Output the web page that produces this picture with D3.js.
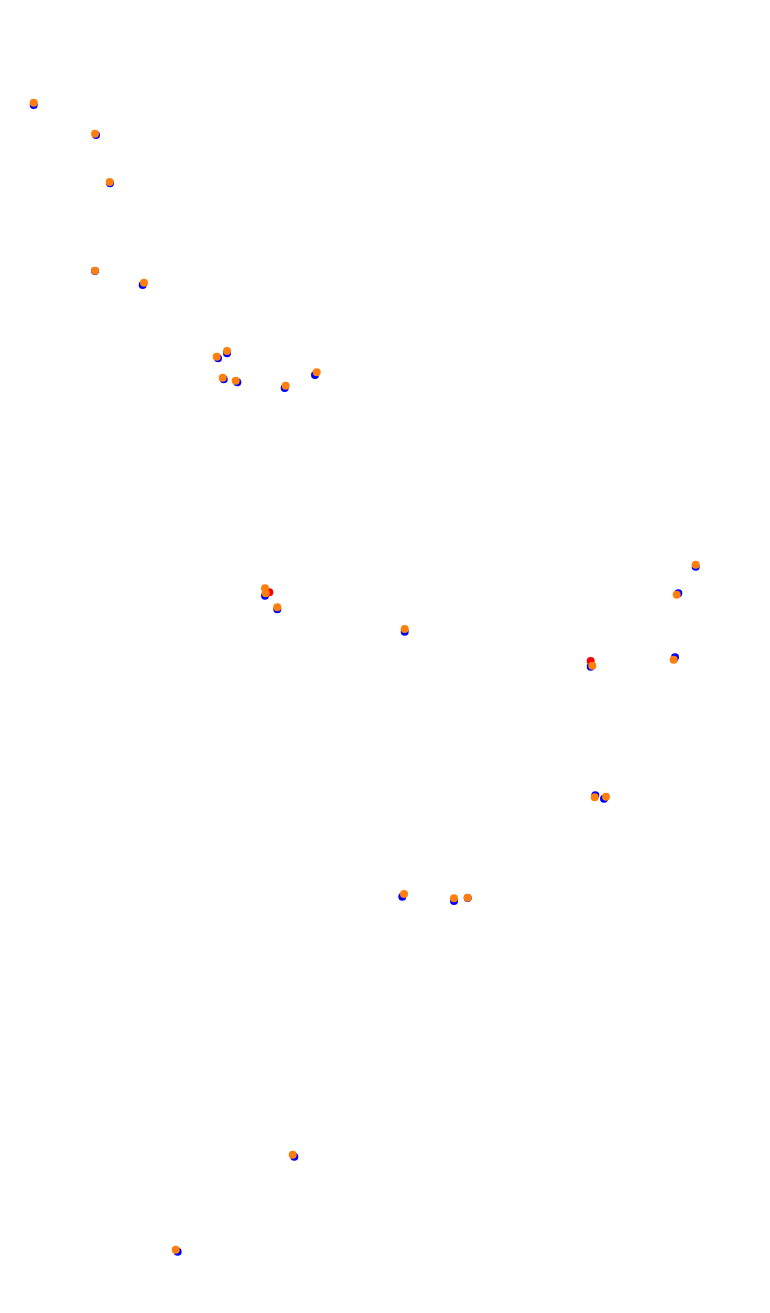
<!DOCTYPE html>
<html>
<head>
<meta charset="utf-8">
<script src="https://cdn.jsdelivr.net/npm/d3@7"></script>
<style>
html,body{margin:0;padding:0;background:#fff;}
svg{display:block;}
</style>
</head>
<body>
<svg id="chart" width="770" height="1313"></svg>
<script>
// Track position data (x, y in track units)
const blueX = [33.7, 96, 110, 95, 142.7, 218, 227, 223.7, 237.3, 284.7, 315, 265, 277.3, 404.7, 695.7, 678.3, 590.7, 675, 595.3, 604, 402.3, 454, 467.7, 294.3, 177.7];
const blueY = [105, 135, 183.3, 271, 285, 358.3, 353.3, 379.3, 382.3, 388, 375, 595.7, 609.3, 631.7, 566.7, 593.3, 666.7, 657.3, 795.3, 798.7, 896.7, 901, 898, 1156.7, 1251.7];

const redX = [269.3, 590.7];
const redY = [592.3, 661];

const orangeX = [33.7, 95, 109.7, 95, 144, 216.7, 227, 222.7, 235.7, 285.7, 316.7, 265, 265.7, 277.3, 404.7, 695.7, 676.7, 592.3, 673.7, 594.7, 606, 404, 454, 467.7, 292.7, 175.7];
const orangeY = [102.7, 133.7, 182, 270.7, 282.7, 356.7, 351, 377.7, 380.7, 385.7, 372.3, 588.3, 593.3, 607.3, 629, 564.7, 594.7, 665.7, 659.7, 797.3, 796.7, 894, 898.3, 897.7, 1154.7, 1249.7];

const W = 770, H = 1313;
const svg = d3.select("#chart");
const x = d3.scaleLinear().domain([0, 770]).range([0, W]);
const y = d3.scaleLinear().domain([0, 1313]).range([0, H]);

const series = [
  {xs: blueX, ys: blueY, color: "#0000ff"},
  {xs: redX, ys: redY, color: "#ff0000"},
  {xs: orangeX, ys: orangeY, color: "#ff7f0e"}
];

series.forEach(s => {
  const pts = s.xs.map((v, i) => [v, s.ys[i]]);
  svg.append("g").selectAll("circle").data(pts).join("circle")
    .attr("cx", d => x(d[0]))
    .attr("cy", d => y(d[1]))
    .attr("r", 4)
    .attr("fill", s.color);
});
</script>
</body>
</html>
